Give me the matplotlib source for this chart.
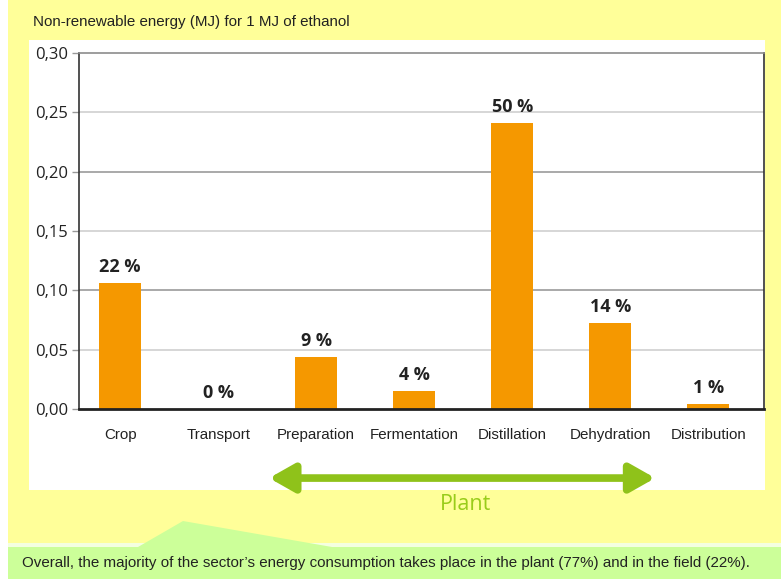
import matplotlib
matplotlib.use("Agg")
import matplotlib.pyplot as plt
from matplotlib.patches import Rectangle, Polygon

# Daten
categories = ["Crop", "Transport", "Preparation", "Fermentation",
              "Distillation", "Dehydration", "Distribution"]
energy_mj = [0.106, 0.0, 0.044, 0.015, 0.241, 0.0725, 0.004]
share_labels = ["22 %", "0 %", "9 %", "4 %", "50 %", "14 %", "1 %"]
y_ticks = [0.00, 0.05, 0.10, 0.15, 0.20, 0.25, 0.30]
y_tick_labels = ["0,00", "0,05", "0,10", "0,15", "0,20", "0,25", "0,30"]
plant_span = ("Preparation", "Dehydration")

title = "Non-renewable energy (MJ) for 1 MJ of ethanol"
caption = ("Overall, the majority of the sector\u2019s energy consumption takes place "
           "in the plant (77%) and in the field (22%).")

YELLOW = "#FFFF99"
LIGHT_GREEN = "#CCFF99"
ORANGE = "#F59800"
ARROW_GREEN = "#8FC21A"
NARROW = ["Liberation Sans", "DejaVu Sans"]
HUMAN = ["Open Sans", "DejaVu Sans"]

W, H = 781, 579
fig = plt.figure(figsize=(W / 100, H / 100), dpi=100, facecolor=YELLOW)
renderer = fig.canvas.get_renderer()


def fit_width(txt, width_px):
    # Schriftgröße so anpassen, dass der Text die Breite aus der Vorlage hat
    w = txt.get_window_extent(renderer).width
    txt.set_fontsize(txt.get_fontsize() * width_px / w)
    return txt.get_fontsize()


# Hintergrund in Pixelkoordinaten
bg = fig.add_axes([0, 0, 1, 1], zorder=-1)
bg.set_xlim(0, W)
bg.set_ylim(H, 0)
bg.axis("off")
bg.add_patch(Rectangle((0, 0), 8, H, color="white", lw=0))
bg.add_patch(Rectangle((29, 40), 736, 450, color="white", lw=0))
bg.add_patch(Rectangle((8, 543), W - 8, 4, color="#f4ffe0", lw=0))
bg.add_patch(Rectangle((8, 547), W - 8, H - 547, color=LIGHT_GREEN, lw=0))
bg.add_patch(Polygon([(138, 547), (183, 521), (332, 547)], closed=True,
                     color=LIGHT_GREEN, lw=0))
t_title = bg.text(33, 22, title, fontsize=12, family=NARROW, color="#222222",
                  ha="left", va="center")
fit_width(t_title, 317)
t_cap = bg.text(22, 563, caption, fontsize=12, family=NARROW, color="#222222",
                ha="left", va="center")
fit_width(t_cap, 729)
bg.text(466, 505, "Plant", fontsize=15.5, family=HUMAN, color="#99CC1A",
        ha="center", va="center")

# Hauptdiagramm
ax = fig.add_axes([79 / W, (H - 409) / H, (764 - 79) / W, 356 / H])
ax.set_facecolor("white")
x = list(range(len(categories)))
ax.bar(x, energy_mj, width=0.43, color=ORANGE, zorder=3)
ax.set_xlim(-0.42, 6.57)
ax.set_ylim(0, 0.30)

for i, yt in enumerate(y_ticks[1:-1]):
    col = "#d6d6d6" if i % 2 == 0 else "#a9a9a9"
    ax.axhline(yt, color=col, lw=1.4, zorder=1)

ax.set_yticks(y_ticks)
ax.set_yticklabels(y_tick_labels, family=HUMAN, fontsize=12, color="#222222")
ax.tick_params(axis="y", length=5, width=1, color="#999999", pad=3)
ax.set_xticks(x)
xlabels = ax.set_xticklabels(categories, family=NARROW, fontsize=11,
                             color="#222222")
ax.tick_params(axis="x", length=0, pad=14)
fs = fit_width(xlabels[categories.index("Fermentation")], 89)
for lab in xlabels:
    lab.set_fontsize(fs)

ax.spines["left"].set_color("#333333")
ax.spines["left"].set_linewidth(1.2)
ax.spines["right"].set_color("#333333")
ax.spines["right"].set_linewidth(1.2)
ax.spines["top"].set_color("#8c8c8c")
ax.spines["top"].set_linewidth(1.2)
ax.spines["bottom"].set_color("#222222")
ax.spines["bottom"].set_linewidth(2)
ax.spines["bottom"].set_zorder(4)

for xi, v, lab in zip(x, energy_mj, share_labels):
    ax.annotate(lab, (xi, v), xytext=(0, 5), textcoords="offset points",
                ha="center", va="bottom", fontsize=13, fontweight="bold",
                family=HUMAN, color="#222222")

# Pfeil "Plant" unter den Kategorien der Anlage
x0 = categories.index(plant_span[0]) - 0.48
x1 = categories.index(plant_span[1]) + 0.46
ax.annotate("", xy=(x1, -0.194), xytext=(x0, -0.194),
            xycoords=("data", "axes fraction"),
            textcoords=("data", "axes fraction"),
            arrowprops=dict(arrowstyle="<|-|>,head_length=1.5,head_width=0.85",
                            mutation_scale=10, lw=5.5, color=ARROW_GREEN,
                            shrinkA=0, shrinkB=0),
            annotation_clip=False)

fig.savefig("out.png", dpi=100)
